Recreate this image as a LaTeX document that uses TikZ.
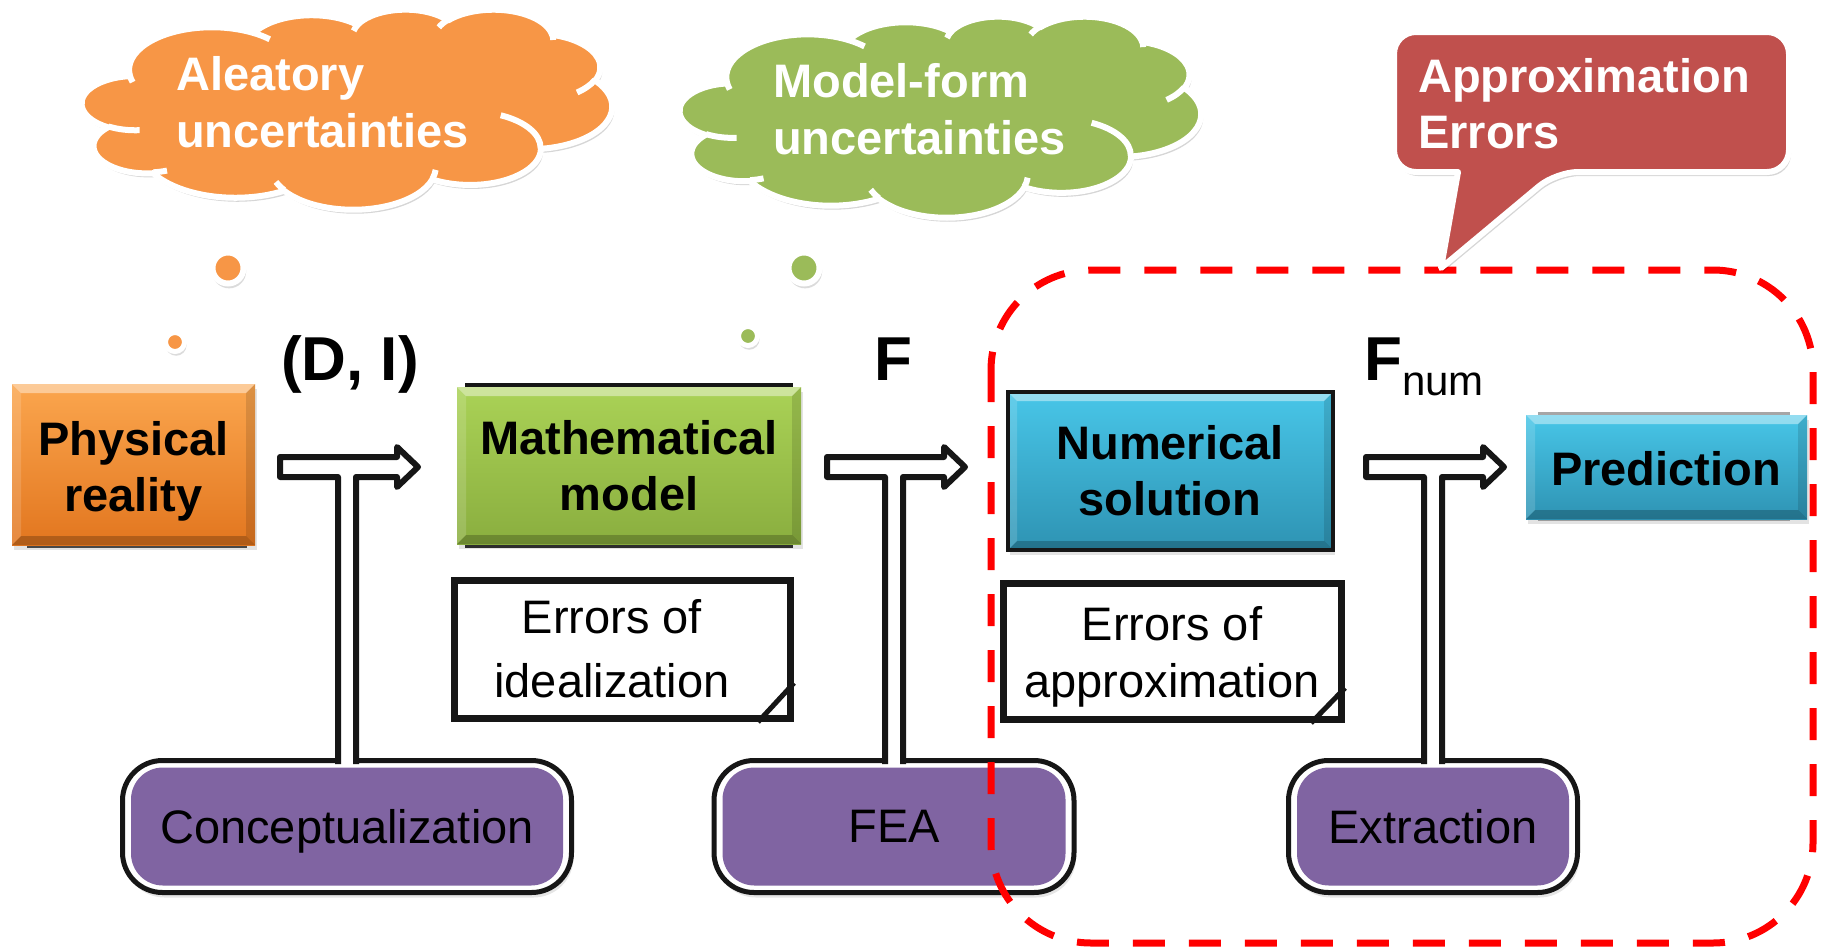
\documentclass[tikz,border=0pt]{standalone}
\usepackage{fontspec}
\setmainfont{Liberation Sans}
\usetikzlibrary{calc,shadows}

\definecolor{orangeFill}{HTML}{F79646}
\definecolor{orangeTop}{HTML}{FBA64E}
\definecolor{orangeBot}{HTML}{E2761F}
\definecolor{greenFill}{HTML}{9BBB59}
\definecolor{greenTop}{HTML}{AAD256}
\definecolor{greenBot}{HTML}{8AAE3F}
\definecolor{blueTop}{HTML}{48C6E8}
\definecolor{blueBot}{HTML}{2E93B3}
\definecolor{purpleFill}{HTML}{8064A2}
\definecolor{calloutFill}{HTML}{C0504D}
\definecolor{zoneRed}{HTML}{FF0000}
\definecolor{ink}{HTML}{161616}

\newcommand\sz[2]{\fontsize{#1}{#2}\selectfont}

\tikzset{
  % one puff of a cloud: radii and start/sweep given as angles seen from the centre
  cpuff/.style n args={4}{insert path={
      arc[x radius=#1, y radius=#2,
          start angle={atan2((#1)*sin(#3),(#2)*cos(#3))},
          delta angle={mod(atan2((#1)*sin((#3)+(#4)),(#2)*cos((#3)+(#4)))-atan2((#1)*sin(#3),(#2)*cos(#3))+720,360)}]}},
  % cloud outline in a 432 x 432 frame
  cloudpath/.style={insert path={(39.00,143.70)
      [cpuff={67.53}{91.90}{-190.4875}{123.7805}]
      [cpuff={53.33}{72.67}{-144.1024}{89.9452}]
      [cpuff={43.65}{59.45}{-145.8079}{99.7230}]
      [cpuff={48.57}{65.95}{-130.9861}{117.2417}]
      [cpuff={53.33}{72.73}{-78.7089}{109.0269}]
      [cpuff={67.75}{92.20}{-46.2673}{130.2690}]
      [cpuff={57.85}{78.67}{0.6250}{114.0333}]
      [cpuff={67.52}{92.15}{22.4516}{115.1726}]
      [cpuff={77.20}{105.43}{66.2426}{75.7110}]
      [cpuff={43.60}{59.18}{-274.9421}{146.7356}]
      [cpuff={43.45}{59.45}{-246.8285}{152.5189}]
      -- cycle}},
  % short inner strokes where the puffs overlap
  cloudlines/.style={insert path={
      (46.93,261.77) [cpuff={43.45}{59.45}{86.7420}{26.4295}]
      (69.28,348.99) [cpuff={43.60}{59.18}{73.6105}{11.4475}]
      (164.78,390.90) [cpuff={67.52}{92.15}{137.6242}{14.0811}]
      (288.27,347.51) [cpuff={67.52}{92.15}{6.4533}{15.9984}]
      (341.29,229.54) [cpuff={57.85}{78.67}{-70.2924}{70.9174}]
      (417.98,153.54) [cpuff={53.33}{72.73}{30.3180}{27.7515}]
      (383.24,54.26) [cpuff={48.57}{65.95}{-13.7443}{14.8548}]
      (290.78,39.52) [cpuff={48.57}{65.95}{-149.1815}{18.1959}]
      (221.41,47.20) [cpuff={43.65}{59.45}{-163.4943}{17.6877}]
      (140.00,51.92) [cpuff={67.53}{91.90}{-66.7070}{12.3194}]
      (41.27,157.89) [cpuff={67.53}{91.90}{157.6544}{11.8582}]}},
  calloutpath/.style={insert path={(1458,172) [rounded corners=22pt]
      -- (1394,172) -- (1394,32) -- (1789,32) -- (1789,172) -- (1556,172)
      [sharp corners] -- (1441,268) -- cycle}},
  softshadow/.style={fill=black, opacity=.16},
  bevelbox/.style={rectangle, inner sep=0pt,
      drop shadow={opacity=.22, shadow xshift=2pt, shadow yshift=-5pt},
      path picture={
        \fill[white,opacity=.42] (path picture bounding box.north west) -- (path picture bounding box.north east)
          -- ([shift={(-9,9)}]path picture bounding box.north east) -- ([shift={(9,9)}]path picture bounding box.north west) -- cycle;
        \fill[white,opacity=.15] (path picture bounding box.north west) -- ([shift={(9,9)}]path picture bounding box.north west)
          -- ([shift={(9,-9)}]path picture bounding box.south west) -- (path picture bounding box.south west) -- cycle;
        \fill[black,opacity=.12] (path picture bounding box.north east) -- ([shift={(-9,9)}]path picture bounding box.north east)
          -- ([shift={(-9,-9)}]path picture bounding box.south east) -- (path picture bounding box.south east) -- cycle;
        \fill[black,opacity=.22] (path picture bounding box.south west) -- (path picture bounding box.south east)
          -- ([shift={(-9,-9)}]path picture bounding box.south east) -- ([shift={(9,-9)}]path picture bounding box.south west) -- cycle;
      }},
  lbl/.style={inner sep=0pt, align=center, text=black},
  boxfont/.style={font=\sz{47}{56}\bfseries},
  whitefont/.style={align=left, text=white, font=\sz{47}{57}\bfseries},
  errbox/.style={rectangle, draw=ink, line width=7pt, fill=white, inner sep=0pt},
  pframe/.style={rectangle, rounded corners=40pt, draw=ink, line width=5pt, fill=white,
      inner sep=0pt, text depth=0pt, font=\sz{47}{56},
      drop shadow={opacity=.2, shadow xshift=2pt, shadow yshift=-5pt},
      path picture={\fill[purpleFill, rounded corners=32pt]
        ([shift={(8.5,7)}]path picture bounding box.north west) rectangle
        ([shift={(-8.5,-7)}]path picture bounding box.south east);}},
  teeline/.style={fill=white, draw=ink, line width=6pt, line join=round},
  dot/.style={circle, draw=white, inner sep=0pt,
      drop shadow={opacity=.28, shadow scale=1.1, shadow xshift=1pt, shadow yshift=-3pt}},
}

% T-shaped double arrow: stem from the step box up to a bar that points right
\newcommand\teearrow[1]{%
  \begin{scope}[shift={(#1)}]
    \path[teeline] (-9,297) -- (-9,10) -- (-67,10) -- (-67,-10) -- (50,-10)
      -- (50,-20) -- (71,0) -- (50,20) -- (50,10) -- (9,10) -- (9,297);
  \end{scope}}

\begin{document}
\begin{tikzpicture}[x=1pt, y=-1pt]
\useasboundingbox (0,0) rectangle (1828,948);
\fill[white] (0,0) rectangle (1828,948);

% thought clouds
\begin{scope}[shift={(82,9)}, x=1.2269pt, y=-0.46296pt]
  \path[softshadow, xshift=2pt, yshift=-4pt] [cloudpath];
  \path[fill=orangeFill, draw=white, line width=6pt, line join=round] [cloudpath];
  \path[draw=white, line width=6pt] [cloudlines];
\end{scope}
\begin{scope}[shift={(680,16)}, x=1.2060pt, y=-0.46528pt]
  \path[softshadow, xshift=2pt, yshift=-4pt] [cloudpath];
  \path[fill=greenFill, draw=white, line width=6pt, line join=round] [cloudpath];
  \path[draw=white, line width=6pt] [cloudlines];
\end{scope}

% multi-line labels are placed by the baseline of their last line
\node[lbl, whitefont, anchor=base west] (aleatorylbl) at (176,147) {Aleatory\\uncertainties};
\node[lbl, whitefont, anchor=base west] (modelformlbl) at (773,154) {Model-form\\uncertainties};

\node[dot, fill=orangeFill, line width=6pt, minimum size=31pt] (obig) at (228,268) {};
\node[dot, fill=orangeFill, line width=5pt, minimum size=19pt] (osmall) at (175,342) {};
\node[dot, fill=greenFill, line width=6pt, minimum size=31pt] (gbig) at (804,268) {};
\node[dot, fill=greenFill, line width=5pt, minimum size=19pt] (gsmall) at (748,336) {};

% model stages
\fill[ink!85] (27,386) rectangle (247,548);
\node[bevelbox, top color=orangeTop, bottom color=orangeBot,
      minimum width=243pt, minimum height=161pt] (phys) at (133.5,464.5) {};
\node[lbl, boxfont, anchor=base] (physlbl) at (133.5,511) {Physical\\reality};

\fill[ink] (465,383) rectangle (793,548);
\node[bevelbox, top color=greenTop, bottom color=greenBot,
      minimum width=344pt, minimum height=157pt] (math) at (629,465.5) {};
\node[lbl, boxfont, anchor=base] (mathlbl) at (629,510) {Mathematical\\model};

\node[bevelbox, top color=blueTop, bottom color=blueBot, draw=ink, line width=3.5pt,
      minimum width=325pt, minimum height=158pt] (num) at (1170.5,471) {};
\node[lbl, boxfont, anchor=base] (numlbl) at (1170,515) {Numerical\\solution};

\fill[gray!70] (1538,412) rectangle (1790,521);
\node[bevelbox, top color=blueTop, bottom color=blueBot,
      minimum width=281pt, minimum height=104pt] (pred) at (1666.5,467) {};
\node[lbl, boxfont, anchor=base] (predlbl) at (1666,485) {Prediction};

% error notes
\node[errbox, minimum width=336pt, minimum height=138pt] (ideal) at (622.5,649.5) {};
\draw[ink, line width=5pt] ([shift={(-36,0)}]ideal.south east) -- ([shift={(0,-39)}]ideal.south east);
\node[lbl, font=\sz{47}{64}, anchor=base] (ideallbl) at (612,697) {Errors of\\idealization};

\node[errbox, minimum width=338pt, minimum height=136pt] (approx) at (1172.5,651.5) {};
\draw[ink, line width=5pt] ([shift={(-34,0)}]approx.south east) -- ([shift={(0,-35)}]approx.south east);
\node[lbl, font=\sz{47}{57}, anchor=base] (approxlbl) at (1172,697) {Errors of\\approximation};

% process steps
\node[pframe, minimum width=449pt, minimum height=132pt] (concept) at (347,826.5) {Conceptualization};
\node[pframe, minimum width=360pt, minimum height=132pt] (fea) at (894,826.5) {FEA};
\node[pframe, minimum width=289pt, minimum height=132pt] (extract) at (1433,826.5) {Extraction};

\coordinate (barlevel) at (0,467);
\coordinate (tee1) at (concept.north |- barlevel);
\coordinate (tee2) at (fea.north |- barlevel);
\coordinate (tee3) at (extract.north |- barlevel);
\teearrow{tee1}
\teearrow{tee2}
\teearrow{tee3}

\node[lbl, font=\sz{62}{62}\bfseries, anchor=base] (dilbl) at (350,380) {(D, I)};
\node[lbl, font=\sz{62}{62}\bfseries, anchor=base] (flbl) at (893,380) {F};
\node[lbl, font=\sz{62}{62}\bfseries, anchor=base west] (fnumlbl) at (1364,380)
  {F\raisebox{-15pt}{\sz{42}{42}\mdseries num}};

% region of approximation errors
\draw[zoneRed, line width=7pt, dash pattern=on 32pt off 24pt, rounded corners=100pt]
  (991,270) rectangle (1813,943);

% callout
\path[softshadow, xshift=2pt, yshift=-4pt] [calloutpath];
\path[fill=calloutFill, draw=white, line width=6pt, line join=round] [calloutpath];
\node[lbl, whitefont, font=\sz{47}{56}\bfseries, anchor=base west] (calloutlbl) at (1418,148) {Approximation\\Errors};
\end{tikzpicture}
\end{document}
